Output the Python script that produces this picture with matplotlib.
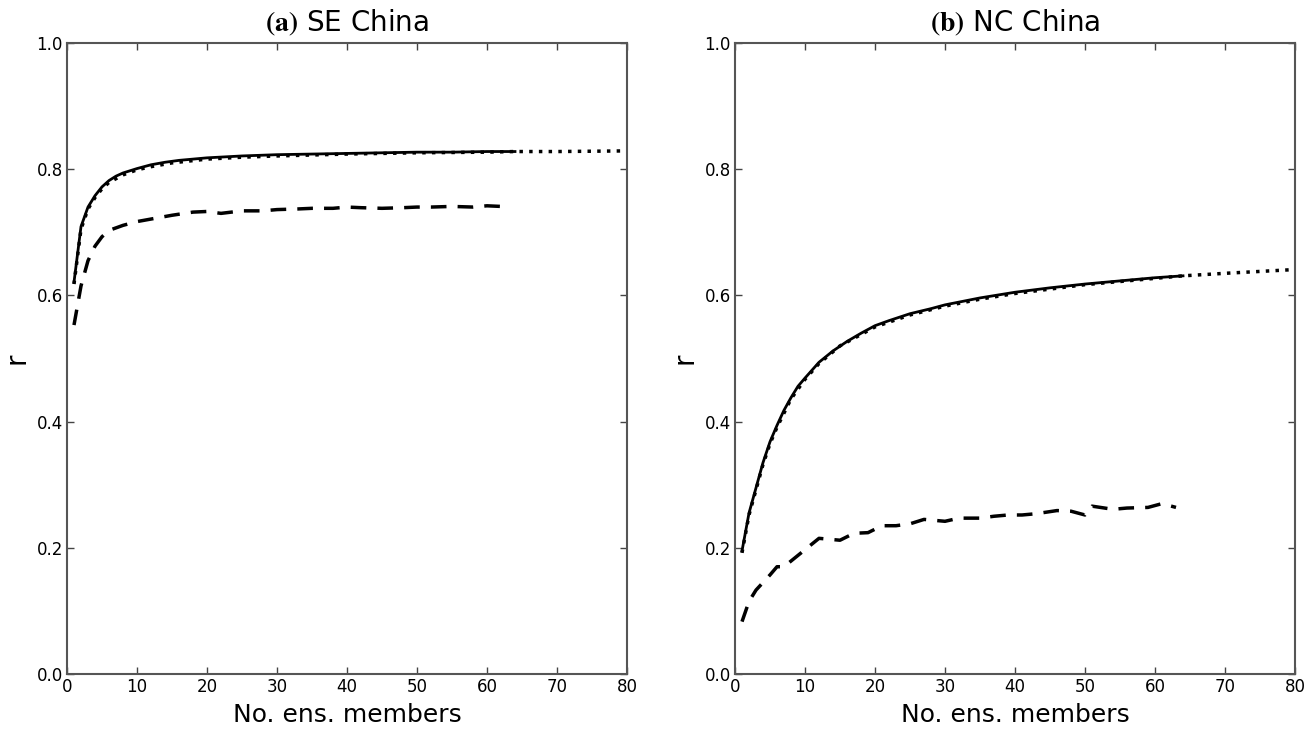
"""Ensemble-size dependence of correlation skill, two regions."""
import matplotlib
matplotlib.use("Agg")
import matplotlib.pyplot as plt

plt.rcParams["mathtext.fontset"] = "stix"
plt.rcParams["font.family"] = "DejaVu Sans"

# ---- (a) SE China ----
a_solid_x = [1, 2, 3, 4, 5, 6, 7, 8, 10, 12, 14, 16, 18, 20, 25, 30, 35, 40, 45, 50, 55, 60, 64]
a_solid_y = [0.621, 0.709, 0.740, 0.758, 0.772, 0.782, 0.789, 0.794, 0.801, 0.807, 0.811,
             0.814, 0.816, 0.818, 0.821, 0.823, 0.824, 0.825, 0.826, 0.827, 0.827, 0.828, 0.828]
a_dot_x = [1, 2, 3, 4, 5, 6, 8, 10, 12, 15, 20, 25, 30, 40, 50, 60, 64, 70, 80]
a_dot_y = [0.618, 0.705, 0.737, 0.755, 0.769, 0.779, 0.791, 0.799, 0.804, 0.810, 0.816,
           0.819, 0.821, 0.824, 0.826, 0.827, 0.828, 0.828, 0.829]
a_dash_x = [1, 2, 3, 4, 5, 6, 8, 10, 12, 15, 18, 20, 22, 25, 28, 30, 33, 35, 38, 40,
            42, 45, 48, 50, 52, 55, 58, 60, 62]
a_dash_y = [0.553, 0.615, 0.655, 0.678, 0.693, 0.703, 0.711, 0.717, 0.721, 0.727, 0.732,
            0.733, 0.730, 0.734, 0.734, 0.736, 0.737, 0.738, 0.738, 0.740, 0.739, 0.738,
            0.739, 0.740, 0.740, 0.741, 0.740, 0.742, 0.741]

# ---- (b) NC China ----
b_solid_x = [1, 2, 3, 4, 5, 6, 7, 8, 9, 10, 12, 14, 16, 18, 20, 22, 25, 28, 30, 35, 40,
             45, 50, 55, 60, 64]
b_solid_y = [0.195, 0.255, 0.295, 0.335, 0.368, 0.394, 0.418, 0.438, 0.456, 0.469, 0.494,
             0.512, 0.527, 0.540, 0.552, 0.560, 0.571, 0.579, 0.585, 0.596, 0.605, 0.612,
             0.618, 0.623, 0.628, 0.631]
b_dot_x = [1, 2, 3, 4, 5, 6, 8, 10, 12, 15, 20, 25, 30, 35, 40, 50, 60, 64, 70, 75, 80]
b_dot_y = [0.192, 0.252, 0.292, 0.332, 0.365, 0.391, 0.436, 0.467, 0.492, 0.520, 0.550,
           0.569, 0.583, 0.594, 0.603, 0.617, 0.627, 0.631, 0.635, 0.638, 0.641]
b_dash_x = [1, 2, 3, 5, 6, 7, 10, 12, 15, 17, 19, 21, 23, 25, 27, 30, 32, 35, 37, 39, 41,
            43, 46, 48, 50, 51, 54, 56, 59, 60, 61, 63]
b_dash_y = [0.083, 0.115, 0.133, 0.157, 0.170, 0.170, 0.197, 0.215, 0.212, 0.223, 0.224,
            0.235, 0.235, 0.238, 0.245, 0.242, 0.247, 0.247, 0.250, 0.252, 0.252, 0.254,
            0.259, 0.258, 0.252, 0.266, 0.261, 0.263, 0.264, 0.267, 0.270, 0.264]

panels = [
    ("(a)", "SE China", a_solid_x, a_solid_y, a_dot_x, a_dot_y, a_dash_x, a_dash_y),
    ("(b)", "NC China", b_solid_x, b_solid_y, b_dot_x, b_dot_y, b_dash_x, b_dash_y),
]

fig = plt.figure(figsize=(13.13, 7.29), dpi=100)
lefts = [67 / 1313, 735 / 1313]
width = 560 / 1313
bottom = 1 - 674 / 729
height = 631 / 729

for left, (tag, name, sx, sy, dx, dy, ex, ey) in zip(lefts, panels):
    ax = fig.add_axes([left, bottom, width, height])
    ax.plot(dx, dy, color="black", lw=2.5, linestyle=(0, (1.0, 1.8)))
    ax.plot(sx, sy, color="black", lw=2.0)
    ax.plot(ex, ey, color="black", lw=2.5, linestyle=(0, (4.5, 3.2)))
    ax.set_xlim(0, 80)
    ax.set_ylim(0, 1)
    ax.set_xticks(range(0, 81, 10))
    ax.set_yticks([0.0, 0.2, 0.4, 0.6, 0.8, 1.0])
    ax.set_yticklabels([f"{v:.1f}" for v in [0.0, 0.2, 0.4, 0.6, 0.8, 1.0]])
    ax.tick_params(direction="in", top=True, right=True, length=5, width=1,
                   color="#444444", labelsize=12, pad=3)
    for sp in ax.spines.values():
        sp.set_color("#555555")
        sp.set_linewidth(1.5)
    ax.set_xlabel("No. ens. members", fontsize=18, labelpad=5)
    ax.set_ylabel("r", fontsize=20, labelpad=4)
    ax.set_title(r"$\mathbf{" + tag + r"}$ " + name, fontsize=20, pad=8)

fig.savefig("out.png", dpi=100)
